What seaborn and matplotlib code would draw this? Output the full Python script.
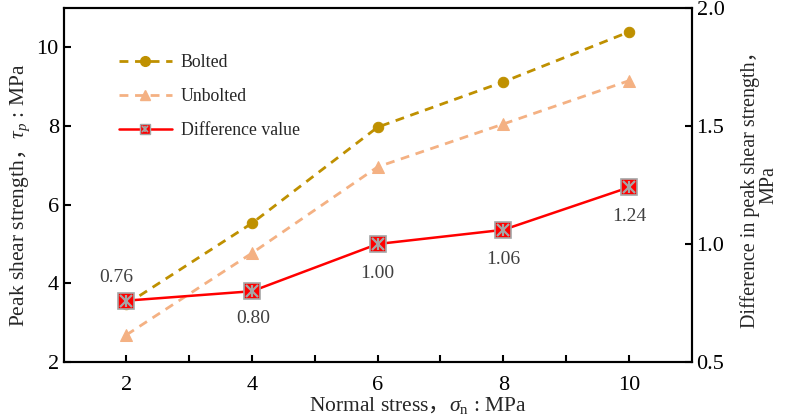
import matplotlib
matplotlib.use("Agg")
import matplotlib.pyplot as plt
import seaborn as sns
from matplotlib.legend_handler import HandlerTuple

stress = [2, 4, 6, 8, 10]
bolted = [3.47, 5.53, 7.97, 9.12, 10.39]
unbolted = [2.69, 4.77, 6.96, 8.05, 9.15]
difference = [0.76, 0.80, 1.00, 1.06, 1.24]
diff_labels = ["0.76", "0.80", "1.00", "1.06", "1.24"]

sns.set_style("ticks")
plt.rcParams["font.family"] = ["Liberation Serif", "Noto Sans CJK SC"]
# custom mathtext so the full-width comma can come from the CJK font
plt.rcParams["mathtext.fontset"] = "custom"
plt.rcParams["mathtext.rm"] = "Liberation Serif"
plt.rcParams["mathtext.it"] = "Liberation Serif:italic"
plt.rcParams["mathtext.bf"] = "Liberation Serif:bold"
plt.rcParams["mathtext.sf"] = "Noto Sans CJK SC"
plt.rcParams["mathtext.fallback"] = "stix"
plt.rcParams["xtick.direction"] = "in"
plt.rcParams["ytick.direction"] = "in"

gold = "#BF9000"
salmon = "#F4B183"
red = "#FF0000"
grey = "#A6A6A6"

fig = plt.figure(figsize=(7.86, 4.19), dpi=100)
ax = fig.add_axes([0.081, 0.136, 0.799, 0.845])
ax2 = ax.twinx()

dash = (0, (3.2, 2.4))
sns.lineplot(x=stress, y=bolted, ax=ax, color=gold, marker="o", markersize=7.5,
             mec=gold, linestyle=dash, linewidth=2)
sns.lineplot(x=stress, y=unbolted, ax=ax, color=salmon, marker="^", markersize=8,
             mec=salmon, linestyle=dash, linewidth=2)

sns.lineplot(x=stress, y=difference, ax=ax2, color=red, marker="s", markersize=11.5,
             mec=grey, mew=1.2, linewidth=1.8)
ax2.plot(stress, difference, linestyle="none", marker="x", markersize=9,
         mec=grey, mew=1.6)
ax2.plot(stress, difference, linestyle="none", marker="|", markersize=9,
         mec=grey, mew=1.6)

offsets = [(-7, 16.5), (1, -20), (0, -21), (0, -21.5), (0, -21)]
for xv, yv, txt, off in zip(stress, difference, diff_labels, offsets):
    ax2.annotate(txt, (xv, yv), xytext=off, textcoords="offset points",
                 ha="center", va="center", fontsize=14, color="#404040")

ax.set_xlim(1, 11)
ax.set_ylim(2, 11)
ax2.set_ylim(0.5, 2.0)
ax.set_xticks([2, 4, 6, 8, 10])
ax.set_xticks([3, 5, 7, 9], minor=True)
ax.set_yticks([2, 4, 6, 8, 10])
ax2.set_yticks([0.5, 1.0, 1.5, 2.0])
ax2.set_yticklabels(["0.5", "1.0", "1.5", "2.0"])

for a in (ax, ax2):
    for s in a.spines.values():
        s.set_linewidth(1.5)
        s.set_color("black")
    a.tick_params(which="both", length=5, width=1.5, labelsize=16, colors="black")
ax.tick_params(axis="x", pad=10)

ax.set_xlabel("Normal stress$\\mathsf{，}\\sigma_\\mathrm{n}$ : MPa", fontsize=15.5, labelpad=0)
ax.xaxis.label.set_x(0.565)
ax.set_ylabel("Peak shear strength$\\mathsf{，}\\tau_p$ : MPa", fontsize=15.5, labelpad=3)
ax.yaxis.label.set_y(0.472)
ax2.set_ylabel("Difference in peak shear strength，\nMPa", fontsize=14.5,
               rotation=90, labelpad=11, linespacing=1.0)

# legend proxies (smaller markers than on the plot)
p_bolt, = ax2.plot([], [], color=gold, marker="o", markersize=7, mec=gold,
                   linestyle=dash, linewidth=2)
p_unbolt, = ax2.plot([], [], color=salmon, marker="^", markersize=7, mec=salmon,
                     linestyle=dash, linewidth=2)
p_diff, = ax2.plot([], [], color=red, marker="s", markersize=7, mec=grey,
                   mew=1, linewidth=1.8)
p_x, = ax2.plot([], [], linestyle="none", marker="x", markersize=5, mec=grey, mew=1.2)
p_v, = ax2.plot([], [], linestyle="none", marker="|", markersize=5, mec=grey, mew=1.2)

ax2.legend([p_bolt, p_unbolt, (p_diff, p_x, p_v)],
           ["Bolted", "Unbolted", "Difference value"],
           handler_map={tuple: HandlerTuple(ndivide=1)},
           loc="upper left", bbox_to_anchor=(0.062, 0.915), frameon=False,
           fontsize=12.8, handlelength=3.0, labelspacing=0.95, handletextpad=0.5)

fig.savefig("out.png", dpi=100)
